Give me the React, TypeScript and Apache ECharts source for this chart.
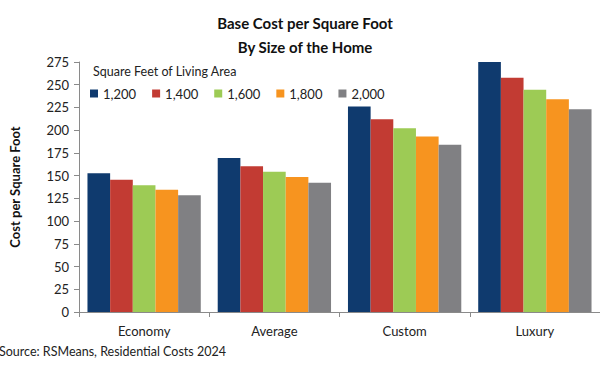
import React, { useEffect, useRef } from "react";
import * as echarts from "echarts";

const categories = ["Economy", "Average", "Custom", "Luxury"];
const seriesNames = ["1,200", "1,400", "1,600", "1,800", "2,000"];
const s1200 = [152.6, 169.5, 226, 275];
const s1400 = [145.6, 160.3, 212, 257.8];
const s1600 = [139.3, 154.4, 202, 244.6];
const s1800 = [134.6, 148.5, 193, 234];
const s2000 = [128.3, 142.3, 184, 223];
const colors = ["#0F3A6E", "#C23B33", "#9DCB55", "#F7941F", "#808083"];

const FONT = "Lato, 'Open Sans', sans-serif";

export default function App() {
  const ref = useRef<HTMLDivElement>(null);
  useEffect(() => {
    document.body.style.margin = "0";
    const chart = echarts.init(ref.current!, null, { renderer: "svg" });
    const data = [s1200, s1400, s1600, s1800, s2000];
    chart.setOption({
      animation: false,
      textStyle: { fontFamily: FONT },
      title: [
        {
          text: "Base Cost per Square Foot\nBy Size of the Home",
          left: 300,
          textAlign: "center",
          top: 6,
          textStyle: { fontSize: 15, fontWeight: "bold", color: "#111", lineHeight: 24, fontFamily: FONT },
        },
        {
          text: "Square Feet of Living Area",
          left: 88,
          top: 60,
          textStyle: { fontSize: 12.5, fontWeight: "normal", color: "#222", fontFamily: FONT },
        },
      ],
      legend: {
        left: 85,
        top: 82,
        icon: "rect",
        itemWidth: 8,
        itemHeight: 8,
        itemGap: 16,
        data: seriesNames,
        textStyle: { fontSize: 13, color: "#222", fontFamily: FONT, padding: [0, 0, 0, 0] },
      },
      grid: { left: 59, right: 0, top: 62, bottom: 55, containLabel: false },
      xAxis: {
        type: "category",
        data: categories,
        axisLine: { lineStyle: { color: "#8a8a8a" } },
        axisTick: { show: true, length: 5, lineStyle: { color: "#8a8a8a" } },
        axisLabel: { fontSize: 13, color: "#222", margin: 12, fontFamily: FONT },
      },
      yAxis: {
        type: "value",
        min: 0,
        max: 275,
        interval: 25,
        name: "Cost per Square Foot",
        nameLocation: "middle",
        nameGap: 58,
        nameTextStyle: { fontSize: 13, fontWeight: "bold", color: "#111", fontFamily: FONT },
        axisLine: { show: true, lineStyle: { color: "#8a8a8a" } },
        axisTick: { show: true, length: 5, lineStyle: { color: "#8a8a8a" } },
        splitLine: { show: false },
        axisLabel: { fontSize: 13, color: "#222", margin: 10, fontFamily: FONT },
      },
      series: seriesNames.map((n, i) => ({
        name: n,
        type: "bar",
        data: data[i],
        barGap: "0%",
        barCategoryGap: "13%",
        itemStyle: { color: colors[i] },
      })),
      graphic: [
        {
          type: "text",
          left: -1,
          top: 345,
          style: { text: "Source: RSMeans, Residential Costs 2024", fontSize: 12.5, fill: "#222", fontFamily: FONT },
        },
      ],
    });
    return () => chart.dispose();
  }, []);
  return <div ref={ref} style={{ width: 600, height: 367 }} />;
}
